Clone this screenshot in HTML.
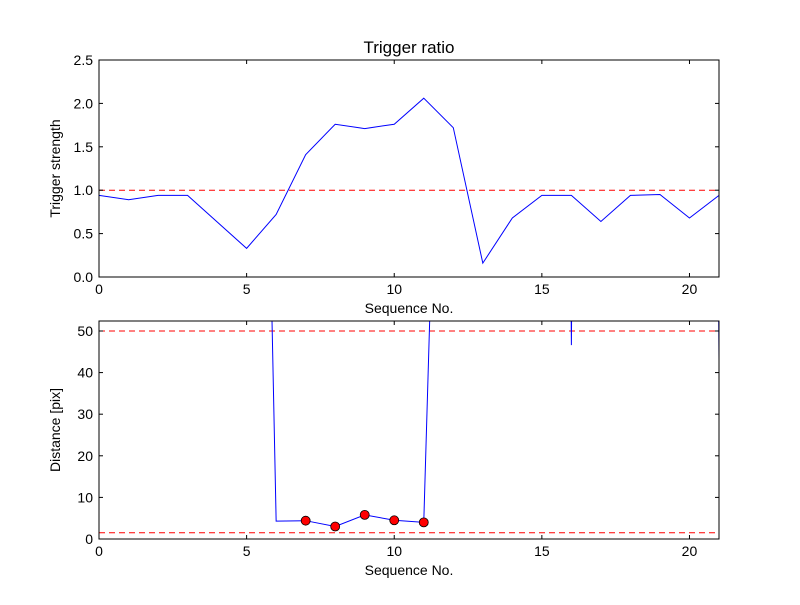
<!DOCTYPE html>
<html><head><meta charset="utf-8"><style>
body{margin:0;background:#fff}
svg text{font-family:"Liberation Sans",sans-serif;fill:#000}
</style></head><body>
<svg id="c" width="800" height="600" xmlns="http://www.w3.org/2000/svg">
<rect width="800" height="600" fill="#fff"/>
<defs>
<clipPath id="clip1"><rect x="99" y="60" width="620" height="217"/></clipPath>
<clipPath id="clip2"><rect x="99" y="321" width="620" height="218"/></clipPath>
</defs>
</svg>
<script>
const topX=[0,1,2,3,5,6,7,8,9,10,11,12,13,14,15,16,17,18,19,20,21];
const topY=[0.94,0.89,0.94,0.94,0.33,0.72,1.41,1.76,1.71,1.76,2.06,1.72,0.16,0.68,0.94,0.94,0.64,0.94,0.95,0.68,0.94];
const botX=[5,6,7,8,9,10,11,12,13,14,15,16,17,18,19,20,21];
const botY=[348,4.3,4.4,3.0,5.8,4.5,4.0,246,1000,1000,1000,46.6,1000,1000,1000,1000,43];
const dotX=[7,8,9,10,11];
const dotY=[4.4,3.0,5.8,4.5,4.0];
const xTicks=[0,5,10,15,20];
const topYTicks=[0,0.5,1.0,1.5,2.0,2.5];
const botYTicks=[0,10,20,30,40,50];
const topThresh=[1.0];
const botThresh=[50,1.5];

const svg=document.getElementById('c');
const NS='http://www.w3.org/2000/svg';
function mk(t,a,p){const e=document.createElementNS(NS,t);for(const k in a)e.setAttribute(k,a[k]);(p||svg).appendChild(e);return e;}
const L=99,R=719;
const xs=v=>L+(v-0)/21*(R-L);
function panel(top,bot,ymax,xsD,ysD,yt,thr,ylabel,id,fmt,clip){
  const ys=v=>bot-v/ymax*(bot-top);
  const g=mk('g',{});
  
  
  const cg=mk('g',{'clip-path':'url(#'+clip+')'},g);
  thr.forEach(t=>{const l=mk('line',{x1:L,x2:R,y1:ys(t),y2:ys(t),stroke:'#f00','stroke-dasharray':'6,4','stroke-width':1},cg);
    
    });
  const pl=mk('polyline',{points:xsD.map((x,i)=>xs(x)+','+ys(ysD[i])).join(' '),fill:'none',stroke:'#00f','stroke-width':1},cg);
  
  
  const fr=mk('rect',{x:L,y:top,width:R-L,height:bot-top,fill:'none',stroke:'#000','stroke-width':1},g);
  
  
  xTicks.forEach(t=>{const x=xs(t);
    mk('line',{x1:x,x2:x,y1:bot,y2:bot-4,stroke:'#000'},g);mk('line',{x1:x,x2:x,y1:top,y2:top+4,stroke:'#000'},g);
    const tx=mk('text',{x:x,y:bot+17,'text-anchor':'middle','font-size':14},g);tx.textContent=t;
    
    });
  yt.forEach(t=>{const y=ys(t);
    mk('line',{x1:L,x2:L+4,y1:y,y2:y,stroke:'#000'},g);mk('line',{x1:R,x2:R-4,y1:y,y2:y,stroke:'#000'},g);
    const tx=mk('text',{x:L-6,y:y+5,'text-anchor':'end','font-size':14},g);tx.textContent=fmt(t);
    
    });
  const xl=mk('text',{x:(L+R)/2,y:bot+36,'text-anchor':'middle','font-size':14},g);xl.textContent='Sequence No.';
  
  
  const yl=mk('text',{x:0,y:0,'text-anchor':'middle','font-size':14,transform:'translate(60,'+((top+bot)/2)+') rotate(-90)'},g);yl.textContent=ylabel;
  
  
  return ys;
}
panel(60,277,2.5,topX,topY,topYTicks,topThresh,'Trigger strength','top',t=>t.toFixed(1),'clip1');
const ys2=panel(321,539,52.4,botX,botY,botYTicks,botThresh,'Distance [pix]','bottom',t=>String(t),'clip2');
dotX.forEach((x,i)=>{const c=mk('circle',{cx:xs(x),cy:ys2(dotY[i]),r:4.5,fill:'#f00',stroke:'#000','stroke-width':0.8});
  
  });
const title=mk('text',{x:(L+R)/2,y:53,'text-anchor':'middle','font-size':17});
title.textContent='Trigger ratio';


</script>
</body></html>
